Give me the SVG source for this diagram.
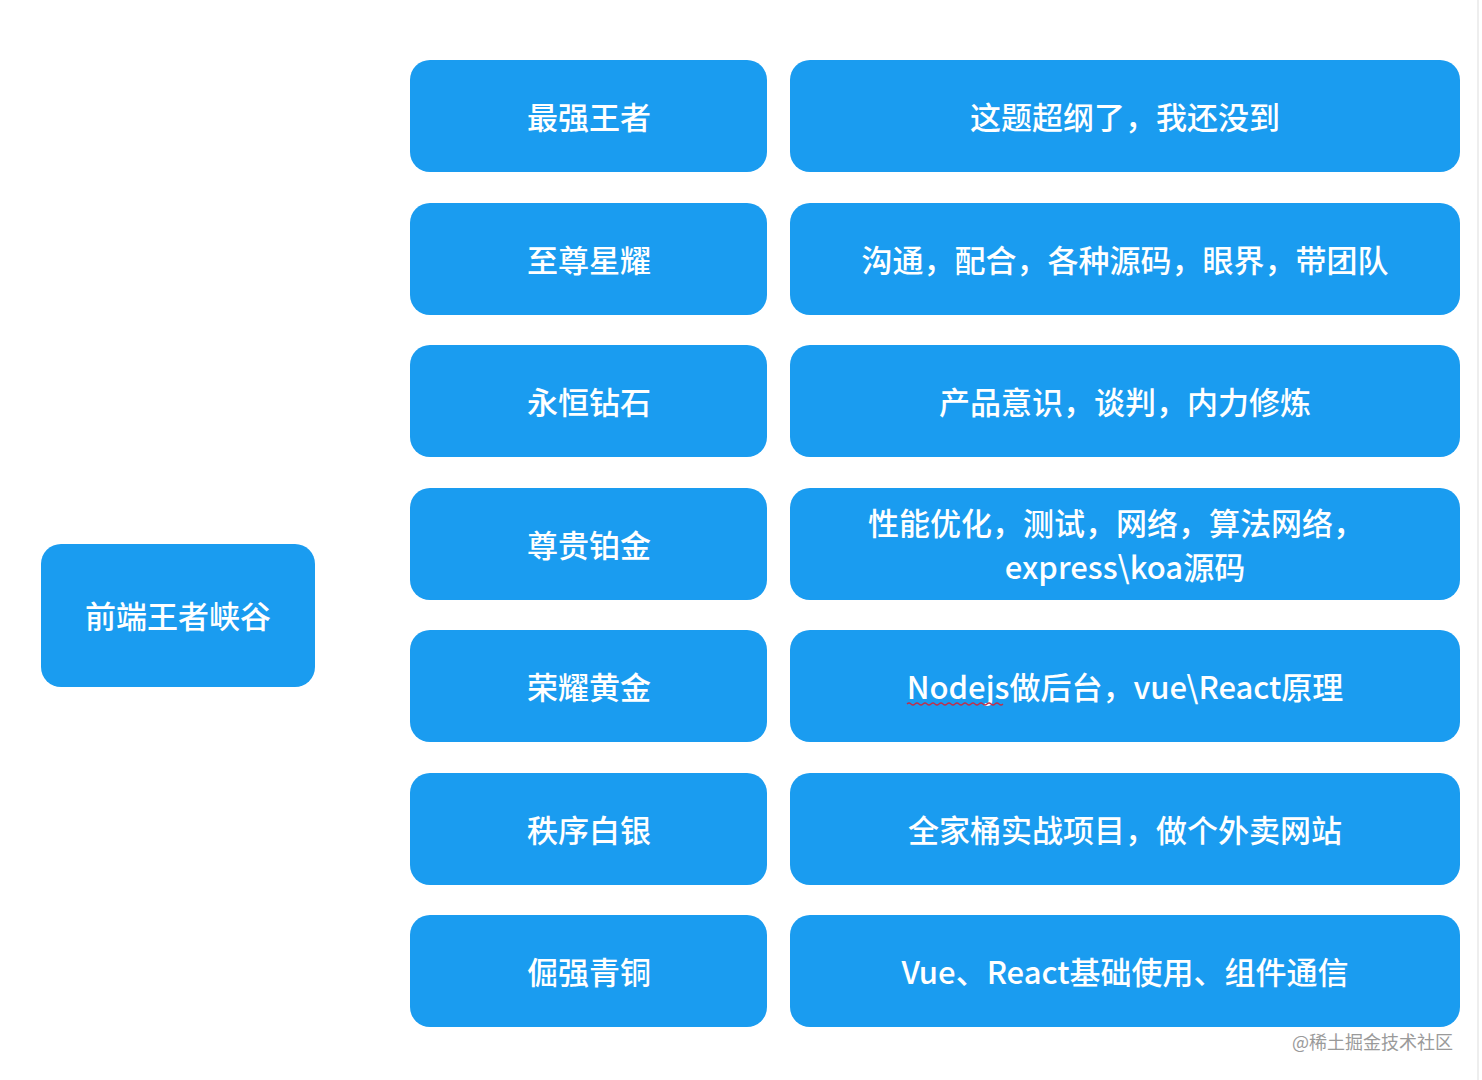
<svg xmlns="http://www.w3.org/2000/svg" width="1482" height="1080" viewBox="0 0 1482 1080">
<style>
.box{fill:#1A9CF0;}
.t{fill:#FFFFFF;font-family:"Noto Sans CJK SC","Liberation Sans",sans-serif;font-size:31px;font-weight:500;text-anchor:middle;dominant-baseline:central;}
.wm{fill:#9A9A9A;font-family:"Noto Sans CJK SC","Liberation Sans",sans-serif;font-size:18px;text-anchor:end;dominant-baseline:central;}
</style>
<rect width="1482" height="1080" fill="#FFFFFF"/>
<line x1="1478" y1="0" x2="1478" y2="1080" stroke="#EEEEEE" stroke-width="2"/>
<g id="root"><rect class="box" x="41" y="544" width="274" height="143" rx="20"/><text class="t" x="178" y="614">前端王者峡谷</text></g>
<g id="l1"><rect class="box" x="410" y="60" width="357" height="112" rx="20"/><text class="t" x="589" y="115">最强王者</text></g>
<g id="r1"><rect class="box" x="790" y="60" width="670" height="112" rx="20"/><text class="t" x="1125" y="115">这题超纲了，我还没到</text></g>
<g id="l2"><rect class="box" x="410" y="203" width="357" height="112" rx="20"/><text class="t" x="589" y="258">至尊星耀</text></g>
<g id="r2"><rect class="box" x="790" y="203" width="670" height="112" rx="20"/><text class="t" x="1125" y="258">沟通，配合，各种源码，眼界，带团队</text></g>
<g id="l3"><rect class="box" x="410" y="345" width="357" height="112" rx="20"/><text class="t" x="589" y="400">永恒钻石</text></g>
<g id="r3"><rect class="box" x="790" y="345" width="670" height="112" rx="20"/><text class="t" x="1125" y="400">产品意识，谈判，内力修炼</text></g>
<g id="l4"><rect class="box" x="410" y="488" width="357" height="112" rx="20"/><text class="t" x="589" y="543">尊贵铂金</text></g>
<g id="r4"><rect class="box" x="790" y="488" width="670" height="112" rx="20"/><text class="t" x="1116" y="521">性能优化，测试，网络，算法网络，</text><text class="t" x="1125" y="565">express\koa源码</text></g>
<g id="l5"><rect class="box" x="410" y="630" width="357" height="112" rx="20"/><text class="t" x="589" y="685">荣耀黄金</text></g>
<g id="r5"><rect class="box" x="790" y="630" width="670" height="112" rx="20"/><text class="t" x="1125" y="685">Nodejs做后台，vue\React原理</text><path d="M907 704 q2 -2 4 0 t4 0 t4 0 t4 0 t4 0 t4 0 t4 0 t4 0 t4 0 t4 0 t4 0 t4 0 t4 0 t4 0 t4 0 t4 0 t4 0 t4 0 t4 0 t4 0 t4 0 t4 0 t4 0 t4 0" fill="none" stroke="#C0304A" stroke-width="1.2"/></g>
<g id="l6"><rect class="box" x="410" y="773" width="357" height="112" rx="20"/><text class="t" x="589" y="828">秩序白银</text></g>
<g id="r6"><rect class="box" x="790" y="773" width="670" height="112" rx="20"/><text class="t" x="1125" y="828">全家桶实战项目，做个外卖网站</text></g>
<g id="l7"><rect class="box" x="410" y="915" width="357" height="112" rx="20"/><text class="t" x="589" y="970">倔强青铜</text></g>
<g id="r7"><rect class="box" x="790" y="915" width="670" height="112" rx="20"/><text class="t" x="1125" y="970">Vue、React基础使用、组件通信</text></g>
<g id="connectors"></g>
<text class="wm" x="1453" y="1041">@稀土掘金技术社区</text>
</svg>
